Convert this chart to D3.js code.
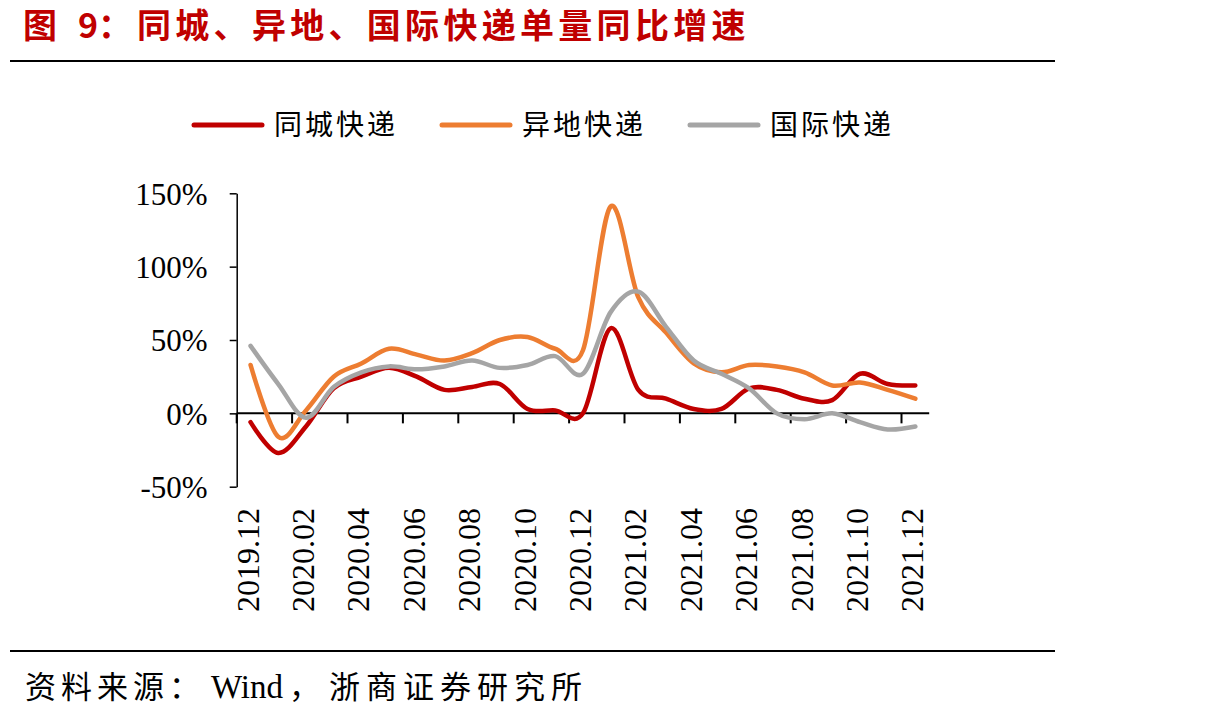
<!DOCTYPE html>
<html>
<head>
<meta charset="utf-8">
<title>同城、异地、国际快递单量同比增速</title>
<style>
  body { margin: 0; background: #fff; }
  svg text { font-family: "Liberation Serif", "Noto Sans CJK SC", serif; }
</style>
<script src="https://d3js.org/d3.v7.min.js"></script>
</head>
<body>
<script>
// months, one per category
var months = ["2019.12","2020.01","2020.02","2020.03","2020.04","2020.05","2020.06","2020.07",
  "2020.08","2020.09","2020.10","2020.11","2020.12","2021.01","2021.02","2021.03","2021.04",
  "2021.05","2021.06","2021.07","2021.08","2021.09","2021.10","2021.11","2021.12"];

// YoY growth, %
var sameCity = [-6, -27, -9, 17, 25, 31, 25, 16, 18, 20, 3, 2, 0, 58, 16, 10, 3, 3, 17, 16, 10, 9, 27, 20, 19];
var interCity = [33, -16, 2, 25, 34, 44, 40, 36, 41, 50, 52, 44, 43, 141, 79, 55, 34, 28, 33, 32, 28, 19, 21, 16, 10];
var intl = [46, 20, -3, 18, 28, 32, 30, 32, 36, 31, 33, 39, 27, 69, 83, 59, 36, 27, 17, 0, -4, 0, -6, -11, -9];

var seriesNames = ["同城快递", "异地快递", "国际快递"];
var colors = ["#C00000", "#ED7D31", "#A5A5A5"];
var yTicks = [-50, 0, 50, 100, 150];

var width = 1210, height = 719;
var svg = d3.select("body").append("svg")
    .attr("width", width)
    .attr("height", height);

// title
var title = svg.append("text")
    .attr("y", 38)
    .style("font-family", "'Noto Sans CJK SC', sans-serif")
    .style("font-weight", "bold")
    .style("font-size", "34px")
    .attr("fill", "#C00000");
title.append("tspan").attr("x", 23).text("图");
title.append("tspan").attr("x", 78).text("9：");
title.append("tspan").attr("x", 137).style("letter-spacing", "4.3px")
    .text("同城、异地、国际快递单量同比增速");

// rules
svg.append("line").attr("x1", 10).attr("x2", 1055).attr("y1", 61).attr("y2", 61)
    .attr("stroke", "#000").attr("stroke-width", 2);
svg.append("line").attr("x1", 10).attr("x2", 1055).attr("y1", 651).attr("y2", 651)
    .attr("stroke", "#000").attr("stroke-width", 2);

// source
var src = svg.append("text").attr("y", 698).style("font-size", "31px");
src.append("tspan").attr("x", 25).style("letter-spacing", "5px").text("资料来源：");
src.append("tspan").attr("x", 211).style("font-size", "33px").text("Wind");
src.append("tspan").attr("x", 289).text("，");
src.append("tspan").attr("x", 329).style("letter-spacing", "6px").text("浙商证券研究所");

// scales
var x = d3.scaleBand().domain(months).range([236.7, 929.2]);
var y = d3.scaleLinear().domain([-50, 150]).range([486.7, 193.3]);

// y axis
var yAxis = svg.append("g")
    .attr("transform", "translate(236.7,0)")
    .call(d3.axisLeft(y).tickValues(yTicks).tickSize(7).tickSizeOuter(0)
      .tickFormat(function(d) { return d + "%"; }));
yAxis.select(".domain").attr("stroke", "#000").attr("stroke-width", 1.5);
yAxis.selectAll(".tick line").attr("stroke-width", 1.5);
yAxis.selectAll(".tick text")
    .attr("x", -29)
    .attr("dy", "0.35em")
    .style("font-family", "'Liberation Serif', serif")
    .style("font-size", "31px")
    .attr("fill", "#000");

// x axis at 0%, ticks on category boundaries every 2 months
var xAxisG = svg.append("g").attr("transform", "translate(0," + y(0) + ")");
xAxisG.append("line")
    .attr("x1", x.range()[0]).attr("x2", x.range()[1])
    .attr("stroke", "#000").attr("stroke-width", 2);
var tickMonths = months.filter(function(d, i) { return i % 2 === 0; });
xAxisG.selectAll(".xt").data(tickMonths).enter().append("line")
    .attr("x1", function(d) { return x(d); })
    .attr("x2", function(d) { return x(d); })
    .attr("y1", 0).attr("y2", 10)
    .attr("stroke", "#000").attr("stroke-width", 2);

// x labels, rotated
svg.selectAll(".xl").data(tickMonths).enter().append("text")
    .attr("transform", function(d) {
      return "translate(" + (x(d) + x.bandwidth() / 2 + 8) + ",508) rotate(-90)";
    })
    .attr("text-anchor", "end")
    .style("font-family", "'Liberation Serif', serif")
    .style("font-size", "32px")
    .text(function(d) { return d; });

// lines
var allSeries = [sameCity, interCity, intl];
var line = d3.line()
    .x(function(d, i) { return x(months[i]) + x.bandwidth() / 2; })
    .y(function(d) { return y(d); })
    .curve(d3.curveCardinal.tension(0));

svg.selectAll(".series").data(allSeries).enter().append("path")
    .attr("d", line)
    .attr("fill", "none")
    .attr("stroke", function(d, i) { return colors[i]; })
    .attr("stroke-width", 4.5)
    .attr("stroke-linecap", "round")
    .attr("stroke-linejoin", "round");

// legend
var legendX = [192, 440, 688];
var legend = svg.selectAll(".lg").data(seriesNames).enter().append("g")
    .attr("transform", function(d, i) { return "translate(" + legendX[i] + ",125)"; });
legend.append("line")
    .attr("x1", 2).attr("x2", 70)
    .attr("stroke", function(d, i) { return colors[i]; })
    .attr("stroke-width", 5)
    .attr("stroke-linecap", "round");
legend.append("text")
    .attr("x", 82).attr("dy", "0.36em")
    .style("font-size", "28px")
    .style("letter-spacing", "3px")
    .text(function(d) { return d; });
</script>
</body>
</html>
